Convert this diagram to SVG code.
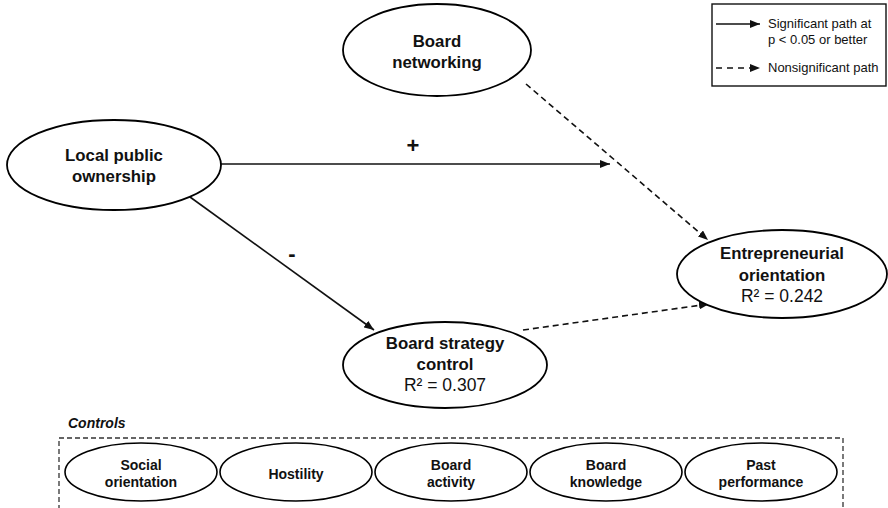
<svg xmlns="http://www.w3.org/2000/svg" width="888" height="508" viewBox="0 0 888 508">
<style>
.node{fill:#fff;stroke:#000;stroke-width:1.8}
.ctl{fill:#fff;stroke:#000;stroke-width:1.6}
.t{font-family:"Liberation Sans",Arial,sans-serif;font-weight:bold;font-size:16.8px;fill:#111;text-anchor:middle}
.r{font-family:"Liberation Sans",Arial,sans-serif;font-size:17.5px;fill:#111;text-anchor:middle}
.c{font-family:"Liberation Sans",Arial,sans-serif;font-weight:bold;font-size:14px;fill:#111;text-anchor:middle}
.lg{font-family:"Liberation Sans",Arial,sans-serif;font-size:13px;fill:#111}
.sol{stroke:#111;stroke-width:1.6;fill:none}
.dash{stroke:#111;stroke-width:1.6;fill:none;stroke-dasharray:6 4}
.sign{font-family:"Liberation Sans",Arial,sans-serif;font-weight:bold;font-size:22px;fill:#111;text-anchor:middle}
.ctitle{font-family:"Liberation Sans",Arial,sans-serif;font-weight:bold;font-style:italic;font-size:14px;fill:#111}
</style>
<defs>
<marker id="ah" viewBox="0 0 10 8" refX="10" refY="4" markerWidth="10" markerHeight="8" markerUnits="userSpaceOnUse" orient="auto">
<path d="M0,0 L10,4 L0,8 Z" fill="#111"/>
</marker>
</defs>
<rect width="888" height="508" fill="#fff"/>

<g id="legend">
<rect x="712" y="4" width="174" height="82" fill="#fff" stroke="#111" stroke-width="1.4"/>
<line class="sol" x1="716" y1="24" x2="760" y2="24" marker-end="url(#ah)"/>
<text class="lg" x="768" y="28">Significant path at</text>
<text class="lg" x="768" y="44">p &lt; 0.05 or better</text>
<line class="dash" x1="716" y1="68" x2="760" y2="68" style="stroke-dasharray:6 5" marker-end="url(#ah)"/>
<text class="lg" x="768" y="72">Nonsignificant path</text>
</g>

<g id="connectors">
<line class="sol" x1="220" y1="164" x2="610" y2="164" marker-end="url(#ah)"/>
<line class="sol" x1="190" y1="197" x2="374" y2="330" marker-end="url(#ah)"/>
<line class="dash" x1="526" y1="84" x2="708" y2="240" marker-end="url(#ah)"/>
<line class="dash" x1="523" y1="330" x2="709" y2="304" marker-end="url(#ah)"/>
<text class="sign" x="413" y="153">+</text>
<text class="sign" x="292" y="261">-</text>
</g>

<g id="board-networking">
<ellipse class="node" cx="437" cy="50" rx="94" ry="46"/>
<text class="t" x="437" y="47">Board</text>
<text class="t" x="437" y="68">networking</text>
</g>

<g id="local-public-ownership">
<ellipse class="node" cx="114" cy="165" rx="107" ry="45"/>
<text class="t" x="114" y="161">Local public</text>
<text class="t" x="114" y="182">ownership</text>
</g>

<g id="entrepreneurial-orientation">
<ellipse class="node" cx="782" cy="274" rx="105" ry="44"/>
<text class="t" x="782" y="259">Entrepreneurial</text>
<text class="t" x="782" y="281">orientation</text>
<text class="r" x="782" y="302">R² = 0.242</text>
</g>

<g id="board-strategy-control">
<ellipse class="node" cx="445" cy="365" rx="102" ry="43"/>
<text class="t" x="445" y="349">Board strategy</text>
<text class="t" x="445" y="370">control</text>
<text class="r" x="445" y="391">R² = 0.307</text>
</g>

<g id="controls">
<text class="ctitle" x="68" y="428">Controls</text>
<rect x="59" y="438" width="784" height="80" fill="none" stroke="#333" stroke-width="1.3" stroke-dasharray="5 3"/>
</g>

<g id="social-orientation">
<ellipse class="ctl" cx="141" cy="472" rx="76" ry="29"/>
<text class="c" x="141" y="470">Social</text>
<text class="c" x="141" y="487">orientation</text>
</g>
<g id="hostility">
<ellipse class="ctl" cx="296" cy="472" rx="76" ry="29"/>
<text class="c" x="296" y="479">Hostility</text>
</g>
<g id="board-activity">
<ellipse class="ctl" cx="451" cy="472" rx="76" ry="29"/>
<text class="c" x="451" y="470">Board</text>
<text class="c" x="451" y="487">activity</text>
</g>
<g id="board-knowledge">
<ellipse class="ctl" cx="606" cy="472" rx="76" ry="29"/>
<text class="c" x="606" y="470">Board</text>
<text class="c" x="606" y="487">knowledge</text>
</g>
<g id="past-performance">
<ellipse class="ctl" cx="761" cy="472" rx="76" ry="29"/>
<text class="c" x="761" y="470">Past</text>
<text class="c" x="761" y="487">performance</text>
</g>
</svg>
